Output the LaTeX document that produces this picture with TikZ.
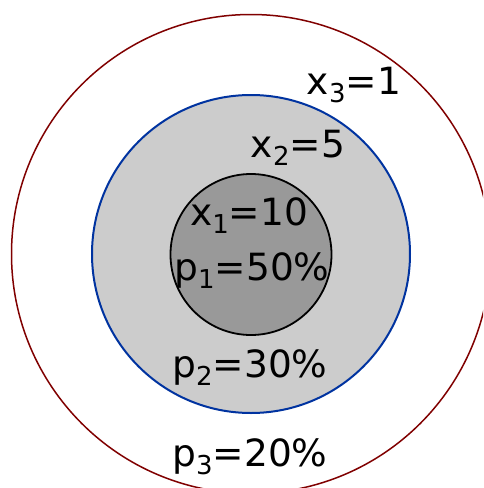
\documentclass[tikz,border=0pt]{standalone}
\usepackage{fontspec}
\setmainfont{DejaVu Sans}
\newcommand\sbs[1]{\raisebox{-8pt}{\fontsize{26}{26}\selectfont #1}}
\begin{document}
\begin{tikzpicture}[x=1pt,y=-1pt,
  lbl/.style={inner sep=0pt,anchor=base,font=\fontsize{37.5}{40}\selectfont}]
\useasboundingbox (0,0) rectangle (483,488);
\clip (0,0) rectangle (483,488);
\definecolor{outerred}{HTML}{800000}
\definecolor{midblue}{HTML}{0033A0}
\coordinate (c) at (251,254);
\draw[outerred,line width=1.5pt] (c) circle[radius=239.5];
\draw[midblue,fill={rgb,255:red,204;green,204;blue,204},line width=2pt] (c) circle[radius=159];
\draw[black,fill={rgb,255:red,153;green,153;blue,153},line width=1.8pt] (251,254.5) circle[radius=80.5];
\node[lbl] (x3) at (354,94.5) {x\sbs{3}=1};
\node[lbl] (x2) at (298,157) {x\sbs{2}=5};
\node[lbl] (x1) at (249,225) {x\sbs{1}=10};
\node[lbl] (p1) at (252,280) {p\sbs{1}=50\%};
\node[lbl] (p2) at (250,377) {p\sbs{2}=30\%};
\node[lbl] (p3) at (250,466) {p\sbs{3}=20\%};
\end{tikzpicture}
\end{document}
